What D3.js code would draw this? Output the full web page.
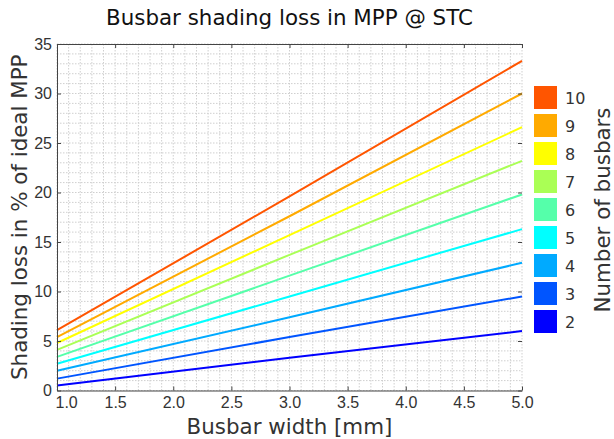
<!DOCTYPE html>
<html>
<head>
<meta charset="utf-8">
<script src="https://cdn.jsdelivr.net/npm/d3@7"></script>
<style>
  body { margin: 0; background: #fff; }
  svg { font-family: 'DejaVu Sans', Verdana, sans-serif; }
</style>
</head>
<body>
<svg id="chart" width="614" height="439"></svg>
<script>
// busbar width in mm (read at these points)
const widths = [1.0, 3.0, 5.0]

// number of busbars, legend goes top to bottom
const busbars = [10, 9, 8, 7, 6, 5, 4, 3, 2]

// shading loss in % per busbar count
const loss10 = [6.1, 19.6, 33.3]
const loss9 = [5.4, 17.6, 30.0]
const loss8 = [4.8, 15.7, 26.6]
const loss7 = [4.1, 13.7, 23.2]
const loss6 = [3.4, 11.6, 19.8]
const loss5 = [2.7, 9.5, 16.3]
const loss4 = [2.0, 7.4, 12.9]
const loss3 = [1.2, 5.4, 9.5]
const loss2 = [0.5, 3.3, 6.0]

const colors = ['#ff5500', '#ffaa00', '#ffff00', '#aaff55', '#55ffaa', '#00ffff', '#00aaff', '#0055ff', '#0000ff']

const xTicks = [1.0, 1.5, 2.0, 2.5, 3.0, 3.5, 4.0, 4.5, 5.0]
const yTicks = [0, 5, 10, 15, 20, 25, 30, 35]

const series = [loss10, loss9, loss8, loss7, loss6, loss5, loss4, loss3, loss2]
  .map((vals, i) => ({ n: busbars[i], color: colors[i], values: vals.map((v, j) => ({ w: widths[j], v: v })) }))

const margin = { top: 44, right: 92, bottom: 48.5, left: 57 }
const W = 614, H = 439
const w = W - margin.left - margin.right
const h = H - margin.top - margin.bottom

const svg = d3.select('#chart')
const g = svg.append('g')
  .attr('transform', 'translate(' + margin.left + ',' + margin.top + ')')

const xScale = d3.scaleLinear().domain([1, 5]).range([0, w])
const yScale = d3.scaleLinear().domain([0, 35]).range([h, 0])

const axisColor = '#444'
const textColor = '#333'
const titleSize = '21.4px'

// dotted grid, 0.1 mm and 1 %
g.append('g')
  .selectAll('line')
  .data(d3.range(1, 5.0001, 0.1))
  .enter().append('line')
  .attr('x1', d => xScale(d)).attr('x2', d => xScale(d))
  .attr('y1', 0).attr('y2', h)
  .attr('stroke', '#cfcfcf')
  .attr('stroke-dasharray', '1.5,1.5')

g.append('g')
  .selectAll('line')
  .data(d3.range(0, 36, 1))
  .enter().append('line')
  .attr('x1', 0).attr('x2', w)
  .attr('y1', d => yScale(d)).attr('y2', d => yScale(d))
  .attr('stroke', '#cfcfcf')
  .attr('stroke-dasharray', '1.5,1.5')

// lines
const line = d3.line()
  .x(d => xScale(d.w))
  .y(d => yScale(d.v))

g.selectAll('.loss')
  .data(series)
  .enter().append('path')
  .attr('class', 'loss')
  .attr('d', d => line(d.values))
  .attr('fill', 'none')
  .attr('stroke', d => d.color)
  .attr('stroke-width', 2)

// X axis
const xAxis = g.append('g')
  .attr('transform', `translate(0, ${h})`)
  .call(d3.axisBottom(xScale)
    .tickValues(xTicks)
    .tickFormat(d3.format('.1f'))
    .tickSizeInner(-4)
    .tickSizeOuter(0)
    .tickPadding(6))
xAxis.select('.domain').attr('stroke', axisColor)
xAxis.selectAll('.tick line').attr('stroke', axisColor)
xAxis.selectAll('.tick text')
  .attr('fill', textColor)
  .style('font-size', '16px')
xAxis.selectAll('.tick text').filter(d => d === 1)
  .attr('text-anchor', 'start')
  .attr('x', -2)

// Y axis
const yAxis = g.append('g')
  .call(d3.axisLeft(yScale)
    .tickValues(yTicks)
    .tickSizeInner(-4)
    .tickSizeOuter(0)
    .tickPadding(5))
yAxis.select('.domain').attr('stroke', axisColor)
yAxis.selectAll('.tick line').attr('stroke', axisColor)
yAxis.selectAll('.tick text')
  .attr('fill', textColor)
  .style('font-size', '16px')

// top border with inward ticks
const topAxis = g.append('g')
  .call(d3.axisTop(xScale)
    .tickValues(xTicks)
    .tickSizeInner(-4)
    .tickSizeOuter(0)
    .tickFormat(''))
topAxis.select('.domain').attr('stroke', axisColor)
topAxis.selectAll('.tick line').attr('stroke', axisColor)

// right side: only inward ticks
const rightAxis = g.append('g')
  .attr('transform', `translate(${w}, 0)`)
  .call(d3.axisRight(yScale)
    .tickValues(yTicks)
    .tickSizeInner(-4)
    .tickSizeOuter(0)
    .tickFormat(''))
rightAxis.select('.domain').remove()
rightAxis.selectAll('.tick line').attr('stroke', axisColor)

// titles
svg.append('text')
  .attr('x', margin.left + w / 2)
  .attr('y', 25)
  .attr('text-anchor', 'middle')
  .attr('fill', '#111')
  .style('font-size', titleSize)
  .text('Busbar shading loss in MPP @ STC')

svg.append('text')
  .attr('x', margin.left + w / 2)
  .attr('y', 434)
  .attr('text-anchor', 'middle')
  .attr('fill', textColor)
  .style('font-size', titleSize)
  .text('Busbar width [mm]')

svg.append('text')
  .attr('transform', `translate(27, ${margin.top + h / 2}) rotate(-90)`)
  .attr('text-anchor', 'middle')
  .attr('fill', textColor)
  .style('font-size', titleSize)
  .text('Shading loss in % of ideal MPP')

// legend
const legend = svg.append('g')
  .attr('transform', 'translate(534, 86)')

const items = legend.selectAll('g')
  .data(series)
  .enter().append('g')
  .attr('transform', (d, i) => `translate(0, ${i * 28})`)

items.append('rect')
  .attr('width', 23)
  .attr('height', 23)
  .attr('fill', d => d.color)

items.append('text')
  .attr('x', 31)
  .attr('y', 12)
  .attr('dy', '0.35em')
  .attr('fill', textColor)
  .style('font-size', '16px')
  .text(d => d.n)

svg.append('text')
  .attr('transform', `translate(610, 210) rotate(-90)`)
  .attr('text-anchor', 'middle')
  .attr('fill', textColor)
  .style('font-size', titleSize)
  .text('Number of busbars')
</script>
</body>
</html>
